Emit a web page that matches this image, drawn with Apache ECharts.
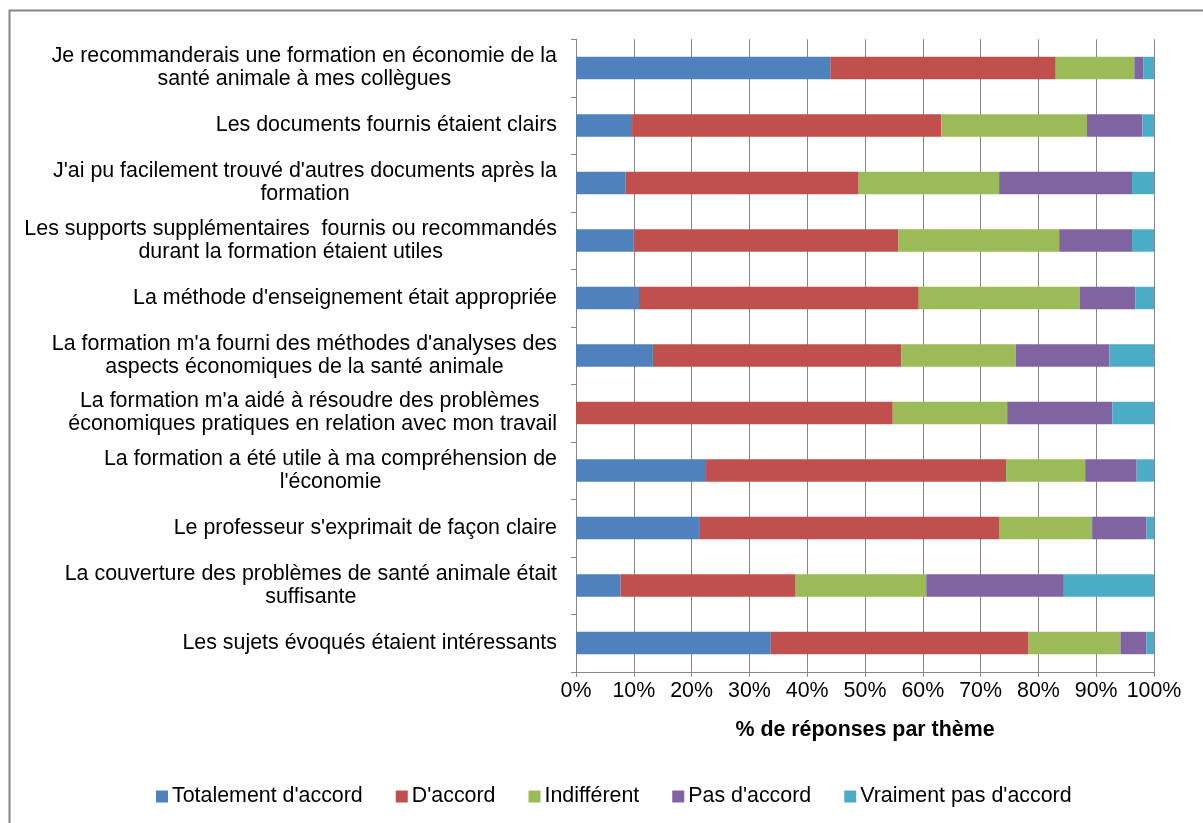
<!DOCTYPE html>
<html>
<head>
<meta charset="utf-8">
<script src="https://cdn.jsdelivr.net/npm/echarts@6/dist/echarts.min.js"></script>
<style>
html,body{margin:0;padding:0;background:#fff;}
#chart{width:1203px;height:823px;}
</style>
</head>
<body>
<div id="chart"></div>
<script>
const categories = [
  "Je recommanderais une formation en économie de la\nsanté animale à mes collègues",
  "Les documents fournis étaient clairs",
  "J'ai pu facilement trouvé d'autres documents après la\nformation",
  "Les supports supplémentaires  fournis ou recommandés\ndurant la formation étaient utiles",
  "La méthode d'enseignement était appropriée",
  "La formation m'a fourni des méthodes d'analyses des\naspects économiques de la santé animale",
  "La formation m'a aidé à résoudre des problèmes \néconomiques pratiques en relation avec mon travail",
  "La formation a été utile à ma compréhension de\nl'économie",
  "Le professeur s'exprimait de façon claire",
  "La couverture des problèmes de santé animale était\nsuffisante",
  "Les sujets évoqués étaient intéressants"
];
const seriesNames = ["Totalement d'accord", "D'accord", "Indifférent", "Pas d'accord", "Vraiment pas d'accord"];
const totalementDaccord = [44.0, 9.7, 8.6, 10.0, 10.9, 13.3, 0, 22.5, 21.3, 7.7, 33.7];
const daccord           = [39.0, 53.5, 40.3, 45.8, 48.4, 43.0, 54.8, 51.9, 52.0, 30.3, 44.6];
const indifferent       = [13.6, 25.2, 24.3, 27.8, 27.9, 19.8, 19.8, 13.7, 16.0, 22.6, 15.9];
const pasDaccord        = [1.6, 9.6, 23.0, 12.6, 9.6, 16.2, 18.2, 8.9, 9.4, 23.8, 4.5];
const vraimentPasDaccord= [1.8, 2.0, 3.8, 3.8, 3.2, 7.7, 7.2, 3.0, 1.3, 15.6, 1.3];
const xTicks = [0, 10, 20, 30, 40, 50, 60, 70, 80, 90, 100];
const colors = ['#4F81BD', '#C0504D', '#9BBB59', '#8064A2', '#4BACC6'];

const FONT = "'Liberation Sans', Arial, sans-serif";
const FS = 21.4;
const allValues = [totalementDaccord, daccord, indifferent, pasDaccord, vraimentPasDaccord];

const chart = echarts.init(document.getElementById('chart'), null, {renderer: 'canvas'});
const option = {
  backgroundColor: '#fff',
  animation: false,
  textStyle: {fontFamily: FONT},
  graphic: [{
    type: 'rect', left: 7, top: 8, silent: true,
    shape: {width: 1210, height: 830},
    style: {fill: 'none', stroke: '#868686', lineWidth: 2}
  }],
  grid: {left: 576, right: 49, top: 39.25, bottom: 151.25, containLabel: false},
  legend: {
    left: 151, top: 781,
    itemWidth: 12, itemHeight: 12, itemGap: 33,
    icon: 'rect',
    textStyle: {fontSize: FS, color: '#000', fontFamily: FONT, padding: [0, 0, 0, -1]},
    data: seriesNames
  },
  xAxis: {
    type: 'value', min: xTicks[0], max: xTicks[xTicks.length - 1], interval: 10,
    axisLine: {show: true, lineStyle: {color: '#868686', width: 1}},
    axisTick: {show: true, length: 5, lineStyle: {color: '#868686'}},
    splitLine: {show: true, lineStyle: {color: '#868686', width: 1}},
    axisLabel: {formatter: '{value}%', fontSize: FS, color: '#000', margin: 9, fontFamily: FONT},
    name: '% de réponses par thème',
    nameLocation: 'middle', nameGap: 48,
    nameTextStyle: {fontSize: FS, fontWeight: 'bold', color: '#000', fontFamily: FONT}
  },
  yAxis: {
    type: 'category', inverse: true, data: categories,
    axisLine: {show: true, lineStyle: {color: '#868686', width: 1}},
    axisTick: {show: true, length: 5, lineStyle: {color: '#868686'}},
    splitLine: {show: false},
    axisLabel: {
      interval: 0, margin: 19, align: 'right', fontSize: FS, lineHeight: 23, color: '#000', fontFamily: FONT,
      formatter: function (v) {
        return v.split('\n').map(function (l) { return '{c|' + l + '}'; }).join('\n');
      },
      rich: {c: {align: 'center', fontSize: FS, lineHeight: 23, color: '#000', fontFamily: FONT}}
    }
  },
  series: seriesNames.map(function (name, i) {
    return {
      name: name, type: 'bar', stack: 'total', barWidth: '39%',
      itemStyle: {color: colors[i]},
      data: allValues[i]
    };
  })
};
chart.setOption(option);
</script>
</body>
</html>
